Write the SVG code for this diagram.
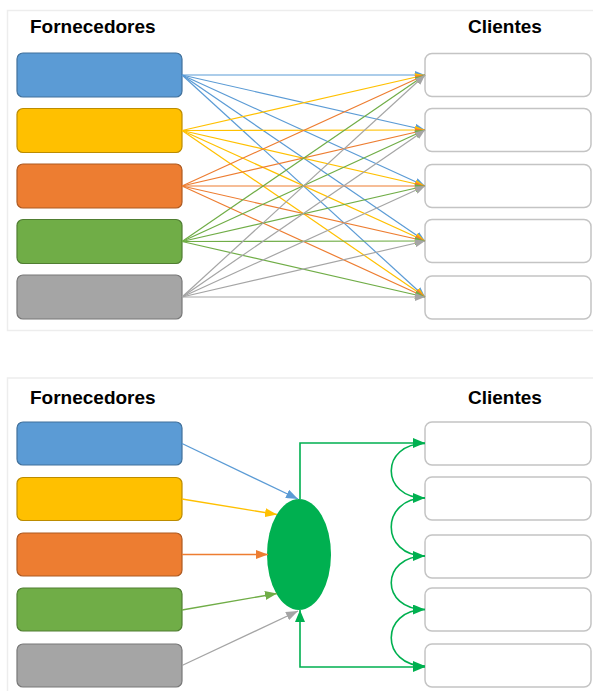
<svg xmlns="http://www.w3.org/2000/svg" width="593" height="691" viewBox="0 0 593 691">
<style>
.panel{fill:#fff;stroke:#EDEDED;stroke-width:1.5}
.title{font-family:"Liberation Sans",Arial,sans-serif;font-weight:bold;font-size:19px;fill:#000}
.cl{fill:#fff;stroke:#C4C4C4;stroke-width:1.5}
.b{fill:#5B9BD5;stroke:#41719C;stroke-width:1.2}
.y{fill:#FFC000;stroke:#BC8C00;stroke-width:1.2}
.o{fill:#ED7D31;stroke:#AE5A21;stroke-width:1.2}
.g{fill:#70AD47;stroke:#507E32;stroke-width:1.2}
.s{fill:#A5A5A5;stroke:#787878;stroke-width:1.2}
.lb{stroke:#5B9BD5;fill:none;stroke-width:1.2;marker-end:url(#mb)}
.ly{stroke:#FFC000;fill:none;stroke-width:1.2;marker-end:url(#my)}
.lo{stroke:#ED7D31;fill:none;stroke-width:1.2;marker-end:url(#mo)}
.lg{stroke:#70AD47;fill:none;stroke-width:1.2;marker-end:url(#mg)}
.ls{stroke:#A5A5A5;fill:none;stroke-width:1.2;marker-end:url(#ms)}
.Lb{stroke:#5B9BD5;fill:none;stroke-width:1.3;marker-end:url(#Mb)}
.Ly{stroke:#FFC000;fill:none;stroke-width:1.3;marker-end:url(#My)}
.Lo{stroke:#ED7D31;fill:none;stroke-width:1.3;marker-end:url(#Mo)}
.Lg{stroke:#70AD47;fill:none;stroke-width:1.3;marker-end:url(#Mg)}
.Ls{stroke:#A5A5A5;fill:none;stroke-width:1.3;marker-end:url(#Ms)}
.LG{stroke:#00B050;fill:none;stroke-width:1.6;marker-end:url(#MG)}
</style>
<defs>
<marker id="mb" markerUnits="userSpaceOnUse" markerWidth="10" markerHeight="8" viewBox="0 0 10 8" refX="10" refY="4" orient="auto"><path d="M0,0 L10,4 L0,8 z" fill="#5B9BD5"/></marker>
<marker id="my" markerUnits="userSpaceOnUse" markerWidth="10" markerHeight="8" viewBox="0 0 10 8" refX="10" refY="4" orient="auto"><path d="M0,0 L10,4 L0,8 z" fill="#FFC000"/></marker>
<marker id="mo" markerUnits="userSpaceOnUse" markerWidth="10" markerHeight="8" viewBox="0 0 10 8" refX="10" refY="4" orient="auto"><path d="M0,0 L10,4 L0,8 z" fill="#ED7D31"/></marker>
<marker id="mg" markerUnits="userSpaceOnUse" markerWidth="10" markerHeight="8" viewBox="0 0 10 8" refX="10" refY="4" orient="auto"><path d="M0,0 L10,4 L0,8 z" fill="#70AD47"/></marker>
<marker id="ms" markerUnits="userSpaceOnUse" markerWidth="10" markerHeight="8" viewBox="0 0 10 8" refX="10" refY="4" orient="auto"><path d="M0,0 L10,4 L0,8 z" fill="#A5A5A5"/></marker>
<marker id="Mb" markerUnits="userSpaceOnUse" markerWidth="12" markerHeight="9" viewBox="0 0 12 9" refX="12" refY="4.5" orient="auto"><path d="M0,0 L12,4.5 L0,9 z" fill="#5B9BD5"/></marker>
<marker id="My" markerUnits="userSpaceOnUse" markerWidth="12" markerHeight="9" viewBox="0 0 12 9" refX="12" refY="4.5" orient="auto"><path d="M0,0 L12,4.5 L0,9 z" fill="#FFC000"/></marker>
<marker id="Mo" markerUnits="userSpaceOnUse" markerWidth="12" markerHeight="9" viewBox="0 0 12 9" refX="12" refY="4.5" orient="auto"><path d="M0,0 L12,4.5 L0,9 z" fill="#ED7D31"/></marker>
<marker id="Mg" markerUnits="userSpaceOnUse" markerWidth="12" markerHeight="9" viewBox="0 0 12 9" refX="12" refY="4.5" orient="auto"><path d="M0,0 L12,4.5 L0,9 z" fill="#70AD47"/></marker>
<marker id="Ms" markerUnits="userSpaceOnUse" markerWidth="12" markerHeight="9" viewBox="0 0 12 9" refX="12" refY="4.5" orient="auto"><path d="M0,0 L12,4.5 L0,9 z" fill="#A5A5A5"/></marker>
<marker id="MG" markerUnits="userSpaceOnUse" markerWidth="12" markerHeight="10" viewBox="0 0 12 10" refX="12" refY="5" orient="auto-start-reverse"><path d="M0,0 L12,5 L0,10 z" fill="#00B050"/></marker>
</defs>
<rect x="0" y="0" width="593" height="691" fill="#fff"/>
<rect class="panel" x="7.5" y="10.5" width="600" height="320"/>
<rect class="panel" x="7.5" y="378" width="600" height="330"/>

<g id="top-titles">
<text class="title" x="30" y="33">Fornecedores</text>
<text class="title" x="468" y="33">Clientes</text>
</g>
<g id="top-suppliers">
<rect id="ts1" class="b" x="17" y="53" width="165" height="44" rx="6"/>
<rect id="ts2" class="y" x="17" y="108.5" width="165" height="44" rx="6"/>
<rect id="ts3" class="o" x="17" y="164" width="165" height="44" rx="6"/>
<rect id="ts4" class="g" x="17" y="219.5" width="165" height="44" rx="6"/>
<rect id="ts5" class="s" x="17" y="275" width="165" height="44" rx="6"/>
</g>
<g id="top-clients">
<rect id="tc1" class="cl" x="425" y="53.5" width="166" height="43" rx="7"/>
<rect id="tc2" class="cl" x="425" y="108.5" width="166" height="43" rx="7"/>
<rect id="tc3" class="cl" x="425" y="164.5" width="166" height="43" rx="7"/>
<rect id="tc4" class="cl" x="425" y="219.5" width="166" height="43" rx="7"/>
<rect id="tc5" class="cl" x="425" y="276" width="166" height="43" rx="7"/>
</g>
<g id="top-connectors">
<line class="lb" x1="182" y1="75" x2="425" y2="75"/>
<line class="lb" x1="182" y1="75" x2="425" y2="130"/>
<line class="lb" x1="182" y1="75" x2="425" y2="186"/>
<line class="lb" x1="182" y1="75" x2="425" y2="241"/>
<line class="lb" x1="182" y1="75" x2="425" y2="297"/>
<line class="ly" x1="182" y1="130.5" x2="425" y2="75"/>
<line class="ly" x1="182" y1="130.5" x2="425" y2="130"/>
<line class="ly" x1="182" y1="130.5" x2="425" y2="186"/>
<line class="ly" x1="182" y1="130.5" x2="425" y2="241"/>
<line class="ly" x1="182" y1="130.5" x2="425" y2="297"/>
<line class="lo" x1="182" y1="186" x2="425" y2="75"/>
<line class="lo" x1="182" y1="186" x2="425" y2="130"/>
<line class="lo" x1="182" y1="186" x2="425" y2="186"/>
<line class="lo" x1="182" y1="186" x2="425" y2="241"/>
<line class="lo" x1="182" y1="186" x2="425" y2="297"/>
<line class="lg" x1="182" y1="241.5" x2="425" y2="75"/>
<line class="lg" x1="182" y1="241.5" x2="425" y2="130"/>
<line class="lg" x1="182" y1="241.5" x2="425" y2="186"/>
<line class="lg" x1="182" y1="241.5" x2="425" y2="241"/>
<line class="lg" x1="182" y1="241.5" x2="425" y2="297"/>
<line class="ls" x1="182" y1="297" x2="425" y2="75"/>
<line class="ls" x1="182" y1="297" x2="425" y2="130"/>
<line class="ls" x1="182" y1="297" x2="425" y2="186"/>
<line class="ls" x1="182" y1="297" x2="425" y2="241"/>
<line class="ls" x1="182" y1="297" x2="425" y2="297"/>
</g>

<g id="bottom-titles">
<text class="title" x="30" y="404">Fornecedores</text>
<text class="title" x="468" y="404">Clientes</text>
</g>
<g id="bottom-suppliers">
<rect id="bs1" class="b" x="17" y="422" width="165" height="43" rx="6"/>
<rect id="bs2" class="y" x="17" y="477.5" width="165" height="43" rx="6"/>
<rect id="bs3" class="o" x="17" y="533" width="165" height="43" rx="6"/>
<rect id="bs4" class="g" x="17" y="588" width="165" height="43" rx="6"/>
<rect id="bs5" class="s" x="17" y="644" width="165" height="43" rx="6"/>
</g>
<g id="bottom-clients">
<rect id="bc1" class="cl" x="425" y="422" width="166" height="43" rx="7"/>
<rect id="bc2" class="cl" x="425" y="477" width="166" height="43" rx="7"/>
<rect id="bc3" class="cl" x="425" y="535" width="166" height="43" rx="7"/>
<rect id="bc4" class="cl" x="425" y="588" width="166" height="43" rx="7"/>
<rect id="bc5" class="cl" x="425" y="644" width="166" height="43" rx="7"/>
</g>
<g id="hub">
<ellipse cx="299" cy="554.5" rx="32" ry="55.5" fill="#00B050"/>
</g>
<g id="bottom-connectors">
<line class="Lb" x1="182" y1="443.5" x2="298" y2="499"/>
<line class="Ly" x1="182" y1="499" x2="277" y2="514.5"/>
<line class="Lo" x1="182" y1="554.5" x2="268" y2="554.5"/>
<line class="Lg" x1="182" y1="610" x2="277" y2="593.5"/>
<line class="Ls" x1="182" y1="665.5" x2="298" y2="611"/>
<path class="LG" d="M300,499 V443 H425"/>
<path class="LG" d="M300,610 V667 H425" style="marker-start:url(#MG)"/>
<path class="LG" d="M425,443.5 C380,443.5 380,498 425,498"/>
<path class="LG" d="M425,498 C380,498 380,556 425,556"/>
<path class="LG" d="M425,556 C380,556 380,609.5 425,609.5"/>
<path class="LG" d="M425,609.5 C380,609.5 380,666 425,666"/>
</g>
</svg>
